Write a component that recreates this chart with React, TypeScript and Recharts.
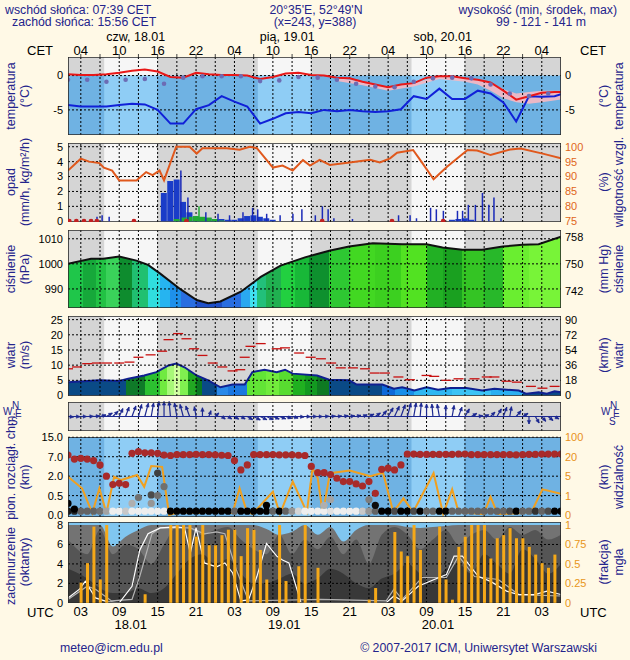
import React from "react";
import {
  ComposedChart,
  Line,
  Area,
  Bar,
  Scatter,
  XAxis,
  YAxis,
  ReferenceArea,
  ReferenceLine,
} from "recharts";

const FONT = "'Liberation Sans', Arial, Helvetica, sans-serif";
const NAVY = "#24248c";
const W = 630;
const LEFT = 68;
const RIGHT = 69;
const END = 77; // hours shown, counted from 02 CET 18.01

const NIGHT = "#d5d5d5";
const DAY = "#f6f6f6";
const BLUE_NIGHT = "#6fb2e3";
const BLUE_DAY = "#8fcdf5";

// sunrise 07:39, sunset 15:56 CET (hours from start)
const sunrise = [5.65, 29.65, 53.65];
const sunset = [13.93, 37.93, 61.93];
const dayTop = ["czw, 18.01", "pią, 19.01", "sob, 20.01"];
const dayBottom = ["18.01", "19.01", "20.01"];

const gridHours = [2, 5, 8, 11, 14, 17, 20, 23, 26, 29, 32, 35, 38, 41, 44, 47, 50, 53, 56, 59, 62, 65, 68, 71, 74];
const labelHours = [2, 8, 14, 20, 26, 32, 38, 44, 50, 56, 62, 68, 74];
const cetLabels = ["04", "10", "16", "22", "04", "10", "16", "22", "04", "10", "16", "22", "04"];
const utcLabels = ["03", "09", "15", "21", "03", "09", "15", "21", "03", "09", "15", "21", "03"];

// temperature (°C)
const tempHours = [0, 2, 4, 6, 8, 10, 12, 14, 16, 18, 20, 22, 24, 26, 28, 30, 32, 34, 36, 38, 40, 42, 44, 46, 48, 50, 52, 54, 56, 58, 60, 62, 64, 66, 68, 70, 72, 74, 76, 77];
const tempAir = [0.2, 0.1, 0.1, 0.2, 0.4, 0.7, 0.9, 0.6, -0.2, -0.3, 0.4, 0.2, 0.1, 0.1, 0.0, -0.5, -0.2, 0.3, 0.4, 0.1, 0.0, -0.3, -0.4, -0.9, -1.3, -1.7, -1.3, -1.1, -0.3, -0.1, -0.1, -0.4, -0.6, -1.0, -2.2, -3.5, -3.0, -2.5, -2.4, -2.4];
const tempBlue = [-4.3, -4.5, -4.5, -4.5, -4.3, -4.1, -4.2, -5.0, -7.0, -7.0, -4.9, -4.3, -3.0, -3.8, -4.5, -7.0, -6.3, -5.5, -5.3, -5.5, -5.0, -5.2, -5.0, -5.2, -5.3, -5.2, -4.9, -3.0, -3.4, -1.9, -3.4, -3.4, -2.2, -2.6, -3.9, -6.7, -3.0, -3.1, -3.0, -2.7];
const dewHours = [0, 3, 6, 9, 12, 15, 18, 21, 24, 27, 30, 33, 36, 39, 42, 45, 48, 51, 54, 57, 60, 63, 66, 69, 72, 75];
const dewPoint = [-0.6, -0.6, -0.9, -0.6, -0.5, -1.2, -0.3, -0.1, -0.1, -0.1, -0.8, -0.7, -0.2, -0.3, -0.6, -1.2, -1.6, -1.7, -0.9, -0.4, -0.3, -0.4, -1.3, -2.6, -3.0, -2.6];
const spreadHours = [42, 46, 50, 54, 58, 62, 64, 66, 68, 70, 72, 74, 77];
const spreadLow = [-0.8, -1.4, -2.2, -1.6, -0.5, -0.9, -1.3, -2.2, -3.3, -3.9, -4.1, -3.9, -3.5];
const spreadHigh = [-0.3, -0.9, -1.7, -1.1, -0.1, -0.4, -0.6, -1.0, -2.0, -2.6, -2.4, -2.2, -2.2];

// precipitation (mm/h) and relative humidity (%)
const blockHours = [15, 16, 17, 18, 19, 20, 21, 22, 23, 24, 25, 26, 27, 28, 29, 30, 31, 32, 60, 61, 62, 63];
const blockRain = [1.9, 2.7, 2.8, 1.3, 0.6, 0.3, 0.25, 0.2, 0.15, 0.15, 0.1, 0.1, 0.2, 0.35, 0.4, 0.3, 0.2, 0.1, 0.1, 0.15, 0.2, 0.1];
const spikeHours = [4.5, 5.3, 6.4, 17.6, 18.7, 21.5, 23.4, 25.2, 27.3, 28.8, 29.6, 31, 33.1, 35.1, 36.5, 38.6, 39.7, 40.6, 41.5, 44.4, 50.6, 51.6, 53.4, 54.4, 56.6, 57.5, 58.6, 60.8, 61.6, 62.5, 63.6, 64.7, 65.7, 66.5, 67.6];
const spikeRain = [0.3, 0.4, 0.3, 3.4, 1.6, 0.6, 0.5, 0.4, 0.6, 0.9, 0.8, 0.5, 0.4, 0.5, 0.8, 0.4, 1.0, 0.8, 0.2, 0.15, 0.15, 0.4, 0.4, 0.2, 0.9, 0.8, 0.7, 0.7, 0.7, 1.1, 1.1, 1.9, 1.1, 1.6, 0.2];
const snowHours = [17, 18, 19, 20, 21, 22, 23, 24];
const snowFall = [0.15, 0.25, 0.3, 0.35, 0.3, 0.25, 0.15, 0.05];
const snowSpikeHours = [20.5];
const snowSpike = [1.0];
const stormHours = [0.2, 1.3, 2.5, 3.6, 4.5, 10.3, 18.5, 39.7, 50.6, 58.6];
const rhHours = [0, 2, 3.3, 4.9, 5.6, 6.9, 8, 10.7, 12.2, 13.2, 14.3, 15, 16.9, 19, 20.1, 21, 24.8, 26.8, 28.4, 29.5, 32, 33.5, 35.1, 36.7, 37.8, 39.3, 40.9, 44, 47.2, 48.7, 50.3, 51.4, 53.9, 55, 57.1, 59.2, 62.4, 63.9, 66, 69.1, 70.7, 74.3, 77];
const rh = [92, 96, 95, 94.5, 93, 92, 88.7, 88.7, 91.5, 90.5, 92, 88.7, 100, 100, 97.7, 99.5, 99.5, 99, 100, 99.5, 93, 93.7, 92, 95.5, 93.7, 95.6, 93.9, 94.7, 95.6, 94.7, 96.1, 98, 98.9, 95.6, 89.1, 93.3, 98.9, 98.7, 97.2, 99.1, 99.4, 97.6, 96.1];

// pressure (hPa)
const pressHours = [0, 3.6, 5.5, 8, 10.7, 12.5, 14.4, 17.6, 20.1, 21.9, 23.8, 27, 30.1, 33.2, 37, 40.8, 43.9, 47.6, 52.2, 56, 58.5, 61.6, 64.7, 67.9, 71, 73.5, 77];
const pressure = [1000.0, 1002.0, 1002.0, 1002.9, 1001.3, 999.6, 996.1, 989.8, 985.6, 984.3, 985.0, 988.9, 994.8, 999.3, 1002.6, 1005.2, 1006.9, 1008.2, 1007.8, 1007.8, 1006.5, 1005.6, 1005.6, 1006.9, 1007.6, 1007.8, 1010.8];
const pressColorHours = [0, 2.4, 4.3, 6, 8, 10, 12.5, 14.4, 16, 17.6, 20, 24, 27, 28.5, 29.5, 31, 33.2, 35.5, 37.6, 40.8, 44, 48, 52, 56, 58.5, 61.6, 65, 68, 72];
const pressColors = ["#1fc64a", "#16a83a", "#22c244", "#3ad25a", "#0e8c2e", "#20c070", "#30dede", "#26b4f0", "#1e90ea", "#2a6ee0", "#1f50c8", "#2a6ee0", "#2aa8f0", "#40e0f0", "#22c07a", "#20b050", "#22d040", "#18b838", "#0e902e", "#2ec832", "#42d822", "#3cd020", "#52e222", "#22b024", "#1aa020", "#34c424", "#28b82a", "#6aee30", "#78f438"];

// wind (m/s)
const windHours = [0, 4.9, 8, 9.4, 11.9, 13.8, 15.7, 16.9, 18.2, 20.1, 21.9, 23.8, 25.7, 27.6, 28.8, 30.7, 32.6, 33.9, 35.1, 38.9, 40.8, 43.9, 45.1, 49.1, 50.9, 52.2, 54.1, 56, 57.8, 59.7, 62.2, 64.7, 66.6, 70.4, 71.6, 73.5, 74.8, 76, 77];
const windSpeed = [4.4, 5.0, 4.8, 5.5, 6.6, 7.7, 9.9, 10.5, 9.3, 6.6, 5.0, 2.7, 3.6, 3.6, 7.7, 8.5, 7.7, 8.5, 7.2, 6.6, 5.2, 5.0, 3.6, 3.6, 2.2, 2.7, 1.65, 2.7, 1.9, 2.5, 2.5, 1.65, 2.2, 1.65, 0.55, 1.1, 0.55, 1.4, 1.1];
const gustHours = [0, 1.4, 3, 4.5, 6.1, 8, 9.6, 11, 12.9, 14.7, 15.7, 17.2, 18.5, 19.7, 21, 22.6, 24.1, 25.7, 26.9, 27.6, 28.5, 30.1, 32.6, 33.9, 36.1, 37.9, 39.5, 41.1, 42.6, 44.5, 46.4, 47.9, 49.5, 51.6, 53.4, 56, 57.2, 59.1, 61, 63.5, 65.4, 66.6, 68.5, 70.1, 72.3, 74.1, 76];
const gusts = [8.8, 9.4, 10.5, 10.7, 10.7, 10.7, 11.0, 12.6, 13.4, 14.6, 18.4, 20.4, 18.7, 15.4, 13.2, 10.7, 9.4, 8.1, 8.5, 12.6, 16.2, 17.1, 15.4, 15.7, 14.0, 12.6, 12.1, 10.7, 9.1, 9.1, 8.8, 7.4, 7.4, 6.1, 5.2, 6.6, 6.3, 5.0, 5.5, 5.5, 6.1, 6.1, 4.7, 4.4, 3.0, 2.4, 3.0];
const windColorHours = [0, 9, 12, 14.4, 15.5, 16.5, 17.5, 18.8, 20, 21, 23.2, 25, 27.9, 31, 33, 35.1, 37, 38.9, 40.8, 49, 51, 54, 60, 66, 71];
const windColors = ["#0a4a86", "#0f7a28", "#2cc030", "#70ea40", "#a8f878", "#d0ffa0", "#80f050", "#22a822", "#0a7a20", "#0a4a86", "#2a8ae8", "#1c78e0", "#62e436", "#72ec3c", "#58dc30", "#20b020", "#139a20", "#0e7a22", "#0a4a86", "#0f6ad8", "#1a90e8", "#30b8f0", "#3cc4f4", "#2cb0f0", "#0a4a86"];

// wind direction, hourly: arrow heading (deg, 0 = up/north) and speed
const dirHours = Array.from({ length: 78 }, (_, i) => i);
const dirHeading = [95, 92, 90, 88, 85, 75, 60, 45, 25, 20, 20, 15, 15, 10, 5, 0, 355, 350, 345, 340, 350, 0, 20, 45, 125, 125, 122, 120, 120, 118, 115, 115, 112, 110, 108, 105, 95, 92, 90, 90, 88, 85, 85, 80, 80, 75, 70, 65, 55, 40, 30, 25, 20, 15, 10, 5, 0, 355, 350, 0, 10, 20, 30, 60, 80, 70, 45, 30, 20, 10, 40, 60, 180, 150, 140, 130, 120, 110];
const dirSpeed = [4.5, 4.5, 4.8, 5, 5, 5, 5.5, 6, 7, 8, 9, 10, 11, 11, 12, 12, 12, 11, 10, 9, 8, 7, 5, 4, 3.5, 3.5, 4, 4, 5, 6, 6, 6, 5.5, 5.5, 5, 5, 4.5, 4.5, 4.5, 4, 4, 4, 4, 4, 4, 4, 4, 4.5, 5, 6, 8, 9, 10, 11, 11, 11, 10, 10, 10, 9, 9, 8, 7, 5, 4, 4, 5, 7, 8, 8, 6, 5, 6, 6, 5, 5, 4, 4];

// cloud vertical extent (km) and visibility (km)
const cloudIdxStops = [0, 0.5, 2, 7, 15];
const visIdxStops = [0, 1, 5, 20, 100];
const cloudTopHours = dirHours;
const cloudTop = [7.7, 6.4, 6.6, 6.4, 6.0, 4.9, 2.0, 1.35, 1.45, 1.35, 8.4, 9.1, 8.6, 8.6, 8.4, 7.7, 7.5, 7.9, 7.9, 7.9, 8.0, 7.9, 7.9, 7.8, 7.6, 7.5, 6.0, 3.6, 4.9, 7.9, 7.9, 7.9, 7.9, 7.8, 7.8, 7.8, 7.6, 7.5, 4.5, 2.9, 2.9, 2.4, 1.84, 1.58, 1.58, 1.4, 1.24, 1.58, 0.68, 3.75, 4.05, 3.6, 4.9, 8.1, 8.1, 8.0, 8.0, 8.0, 8.0, 8.0, 8.0, 8.1, 8.1, 7.9, 7.9, 7.9, 7.9, 7.9, 7.9, 7.9, 7.8, 7.9, 8.0, 8.0, 8.1, 8.1, 8.1, 8.1];
const lowBaseKm = 0.1;
const lowShade = [0.9, 0.85, 0.6, 0.6, 0.6, 0.55, 0.35, 0.05, 0.05, 0.2, 0.05, 0.05, 0.05, 0.05, 0.05, 0.05, 1, 1, 1, 1, 1, 1, 1, 1, 1, 1, 0.6, 1, 1, 1, 1, 1, 0.6, 1, 0.6, 0.4, 0.15, 0.05, 0.05, 0.05, 0.05, 0.1, 0.05, 0.05, 0.05, 0.05, 0.2, 0.4, 0.6, 1, 1, 0.7, 1, 1, 0.7, 1, 0.6, 0.6, 1, 1, 0.6, 0.6, 0.6, 0.6, 0.6, 0.6, 0.6, 0.6, 0.6, 0.7, 1, 0.6, 0.6, 0.8, 0.6, 0.7, 1, 1];
const extraHours = [0, 1, 10, 11, 13, 13, 14, 14, 15, 31, 40, 41, 47, 48];
const extraKm = [0.3, 0.15, 0.3, 0.45, 0.55, 0.3, 2.8, 0.5, 1.2, 0.25, 0.25, 0.4, 0.4, 0.25];
const extraShade = [1, 1, 0.3, 0.55, 0.7, 0.4, 0.75, 0.55, 0.55, 1, 0.3, 0.35, 0.5, 0.95];
const visHours = [0, 2.2, 3.8, 4.9, 6.0, 7.2, 8.3, 10.8, 11.9, 13.0, 14.7, 15.8, 17.4, 20.5, 22.6, 25.7, 26.8, 27.9, 28.8, 32.0, 33.1, 35.1, 37.3, 38.2, 39.0, 39.8, 40.9, 44.0, 47.2, 49.2, 50.8, 52.4, 53.9, 57.1, 58.6, 60.0, 61.0, 62.9, 64.9, 66.0, 67.1, 71.2, 72.6, 74.1, 77];
const visibility = [4.9, 2.5, 0.1, 2.5, 0.1, 4.9, 4.2, 5.9, 2.8, 12.8, 12.2, 0, 0.15, 0.1, 0.25, 0.1, 2.5, 0.2, 0.05, 1.8, 0.05, 3.9, 0.15, 11.2, 4.6, 0.05, 7.3, 9.4, 5.0, 7.7, 0.15, 0.86, 0.15, 7.3, 0.05, 2.3, 0.15, 0.1, 0.05, 0.94, 0.05, 0.1, 0.3, 2.3, 1.4];

// cloud cover (octas) and fog fraction
const coverHours = [0, 3, 5, 7, 9, 11, 13, 15, 17, 19, 21, 23, 25, 27, 29, 31, 33, 35, 37, 39, 41, 43, 45, 47, 49, 51, 53, 55, 57, 59, 61, 63, 65, 67, 69, 71, 73, 75, 77];
const coverTotal = [8, 8, 8, 5.8, 6.8, 7.5, 8, 8, 8, 8, 8, 8, 8, 8, 8, 7.6, 7.0, 7.3, 8, 7.0, 7.8, 6.3, 7.5, 8, 8, 8, 7.8, 7.7, 7.8, 7.9, 8, 8, 8, 8, 8, 8, 8, 8, 8];
const coverMid = [6.5, 5.0, 7.5, 5.0, 6.0, 5.5, 4.0, 6.0, 7.8, 7.6, 7.0, 7.5, 7.8, 6.5, 5.5, 5.0, 7.0, 5.0, 6.5, 5.5, 6.8, 5.0, 6.5, 4.0, 7.0, 7.8, 7.0, 5.5, 6.5, 7.5, 6.0, 7.0, 7.5, 6.5, 7.8, 7.0, 7.5, 6.5, 7.0];
const coverLow = [3.5, 2.5, 1.5, 1.0, 1.0, 1.5, 1.0, 1.5, 3.0, 4.5, 5.0, 4.0, 4.5, 3.0, 2.0, 2.0, 2.5, 3.0, 2.0, 2.5, 3.5, 3.0, 2.0, 1.5, 2.5, 3.0, 4.0, 3.0, 2.0, 3.5, 4.0, 3.0, 5.0, 4.0, 3.0, 5.5, 4.5, 3.0, 4.0];
const lowCoverHours = [0, 1.8, 2.7, 4.3, 6.2, 8, 10, 11.2, 12.5, 14.4, 16.9, 18.2, 19.1, 20, 21.3, 23.2, 24.5, 25.7, 27, 28.2, 29.5, 31, 32.6, 33.5, 34.5, 36.4, 49.7, 50.9, 52.2, 54.7, 57.2, 59.1, 60.3, 61.6, 64.1, 66, 68.5, 70.4, 72.9, 74.8, 77];
const lowCover = [0.5, 1.4, 2.2, 0.5, 0.1, 0, 1.7, 5.4, 7.1, 7.7, 7.8, 7.7, 5.1, 7.7, 4.1, 3.7, 4.1, 3.1, 0.2, 0.3, 2.7, 6.1, 4.8, 4.4, 4.1, 0, 0, 0.7, 0.2, 1.7, 2.4, 2.9, 4.8, 4.8, 2.7, 2.2, 1.2, 0.85, 0.85, 1.2, 0.85];
const midCoverHours = [0, 3, 4.3, 6.8, 10, 11.2, 13.1, 14.4, 19.1, 21.3, 23.2, 24.5, 26.3, 28.2, 39.5, 49.7, 50.9, 52.2, 55.3, 59.1, 61, 63.5, 67.2, 70.4, 77];
const midCover = [0.35, 1.7, 1.4, 0.2, 0.35, 2.7, 7.1, 7.7, 7.7, 7.1, 7.3, 7.1, 3.4, 0.2, 0.35, 0.2, 1.4, 0.35, 2.6, 2.6, 4.8, 2.7, 2.4, 0.85, 0.7];
const fogHours = [2, 3, 4, 5, 6, 12, 16, 17, 18, 19, 20, 21, 22, 23, 24, 25, 26, 27, 28, 29, 30, 31, 33, 34, 36, 37, 39, 47, 48, 51, 52, 53, 54, 55, 58, 59, 60, 61, 62, 63, 64, 65, 66, 67, 68, 69, 70, 71, 72, 73, 74, 75, 76];
const fog = [0.26, 0.51, 0.98, 0.3, 1.0, 0.11, 1, 1, 1, 1, 0.85, 1, 0.74, 0.74, 0.87, 0.94, 0.94, 0.6, 0.96, 0.94, 0.68, 0.3, 1, 0.28, 0.47, 1, 0.45, 0.04, 0.19, 0.91, 0.66, 0.6, 1, 0.68, 0.98, 0.3, 0.04, 0.72, 0.85, 1, 1, 1, 0.57, 0.83, 0.87, 0.96, 0.83, 0.83, 0.72, 0.62, 0.51, 0.45, 0.62];

// ---------- helpers ----------
function rows(cols: Record<string, [number[], any[]]>) {
  const byHour = new Map<number, any>();
  Object.entries(cols).forEach(([key, [hs, vs]]) => {
    hs.forEach((h, i) => {
      const r = byHour.get(h) || { h };
      r[key] = vs[i];
      byHour.set(h, r);
    });
  });
  return [...byHour.values()].sort((a, b) => a.h - b.h);
}

function toIdx(v: number, stops: number[]) {
  for (let i = 1; i < stops.length; i++) {
    if (v <= stops[i]) return i - 1 + (v - stops[i - 1]) / (stops[i] - stops[i - 1]);
  }
  return stops.length - 1;
}

function gray(shade: number) {
  const g = Math.round(250 * (1 - shade));
  return `rgb(${g},${g},${g})`;
}

function bandGradient(id: string, hours: number[], colors: string[]) {
  const stops: any[] = [];
  hours.forEach((h, i) => {
    const end = i + 1 < hours.length ? hours[i + 1] : END;
    stops.push(<stop key={i + "a"} offset={h / END} stopColor={colors[i]} />);
    stops.push(<stop key={i + "b"} offset={end / END} stopColor={colors[i]} />);
  });
  return (
    <defs>
      <linearGradient id={id} x1="0" y1="0" x2="1" y2="0">
        {stops}
      </linearGradient>
    </defs>
  );
}

function backdrop(k: string, night: string, day: string, y1?: number, y2?: number) {
  return [
    <ReferenceArea key={k + "n"} x1={0} x2={END} y1={y1} y2={y2} fill={night} fillOpacity={1} stroke="none" ifOverflow="hidden" zIndex={-200} />,
    ...sunrise.map((s, i) => (
      <ReferenceArea key={k + i} x1={s} x2={sunset[i]} y1={y1} y2={y2} fill={day} fillOpacity={1} stroke="none" ifOverflow="hidden" zIndex={-190} />
    )),
  ];
}

function grid(ys: number[]) {
  return [
    ...gridHours.map((h) => (
      <ReferenceLine key={"gx" + h} x={h} stroke="#000" strokeDasharray="2 2" strokeWidth={1} zIndex={150} />
    )),
    ...ys.map((v) => (
      <ReferenceLine key={"gy" + v} y={v} stroke="#000" strokeDasharray="2 2" strokeWidth={1} zIndex={150} />
    )),
  ];
}

const frame = (
  <ReferenceArea x1={0} x2={END} fill="none" fillOpacity={0} stroke="#2a2a2a" strokeWidth={1.6} ifOverflow="hidden" zIndex={1500} />
);

function xAxis(id: any = 0) {
  return <XAxis xAxisId={id} dataKey="h" type="number" domain={[0, END]} hide allowDataOverflow />;
}

function leftAxis(domain: number[], ticks: number[], fmt?: (v: number) => string) {
  return (
    <YAxis width={LEFT} type="number" domain={domain} ticks={ticks} interval={0} allowDataOverflow
      tickLine={false} axisLine={false} tickSize={0} tickMargin={5}
      tick={{ fontSize: 11, fill: "#000" }} tickFormatter={fmt} />
  );
}

function rightAxis(domain: number[], ticks: number[], color = "#000", fmt?: (v: number) => string) {
  return (
    <YAxis yAxisId="r" orientation="right" width={RIGHT} type="number" domain={domain} ticks={ticks} interval={0} allowDataOverflow
      tickLine={false} axisLine={false} tickSize={0} tickMargin={4}
      tick={{ fontSize: 11, fill: color }} tickFormatter={fmt} />
  );
}

// a panel: absolutely placed box, holding one or more stacked chart layers
function Panel({ top, height, padTop = 0, padBottom = 0, children }: any) {
  return (
    <div style={{ position: "absolute", left: 0, top: top - padTop, width: W, height: height + padTop + padBottom }}>
      {children}
    </div>
  );
}

function Layer({ height, data, margin, children }: any) {
  return (
    <div style={{ position: "absolute", left: 0, top: 0 }}>
      <ComposedChart width={W} height={height} data={data}
        margin={margin || { top: 0, right: 0, bottom: 0, left: 0 }}>
        {children}
      </ComposedChart>
    </div>
  );
}

// bars drawn on their own layer so that their width is not squeezed by other series
function BarLayer({ height, padTop = 0, padBottom = 0, hours, values, domain, fill, size }: any) {
  const data = hours.map((h: number, i: number) => ({ h, v: values[i] }));
  return (
    <Layer height={height} data={data} margin={{ top: padTop, bottom: padBottom, left: LEFT, right: RIGHT }}>
      {xAxis()}
      <YAxis hide type="number" domain={domain} allowDataOverflow />
      <Bar dataKey="v" fill={fill} barSize={size} isAnimationActive={false} />
    </Layer>
  );
}

function VLabel({ x, y, text, color = NAVY }: any) {
  return (
    <div style={{ position: "absolute", left: x, top: y, transform: "translate(-50%, -50%) rotate(-90deg)", whiteSpace: "nowrap", color, fontSize: 12.5, lineHeight: 1 }}>
      {text}
    </div>
  );
}

function Txt({ x, y, text, align = "left", size = 12.3, color = NAVY }: any) {
  const tx = align === "center" ? "translate(-50%, 0)" : align === "right" ? "translate(-100%, 0)" : "none";
  return (
    <div style={{ position: "absolute", left: x, top: y, transform: tx, whiteSpace: "nowrap", color, fontSize: size, lineHeight: 1 }}>
      {text}
    </div>
  );
}

function Compass({ x, y }: any) {
  const s = { position: "absolute" as const, fontSize: 10, lineHeight: 1, color: NAVY };
  return (
    <>
      <div style={{ ...s, left: x + 9, top: y }}>N</div>
      <div style={{ ...s, left: x, top: y + 6 }}>W</div>
      <div style={{ ...s, left: x + 12, top: y + 8 }}>E</div>
      <div style={{ ...s, left: x + 8, top: y + 16 }}>S</div>
    </>
  );
}

const topTicks = [...gridHours, ...sunrise].sort((a, b) => a - b);
const dayMid = sunrise.map((s, i) => (s + sunset[i]) / 2);
const bottomTicks = [...labelHours, ...dayMid].sort((a, b) => a - b);

const TopTick = (p: any) => {
  const v = p.payload.value;
  const d = sunrise.indexOf(v);
  if (d >= 0) {
    return <text x={p.x + 2} y={p.y - 16} textAnchor="start" fontSize={12.5} fill="#000">{dayTop[d]}</text>;
  }
  const i = labelHours.indexOf(v);
  return (
    <g>
      <line x1={p.x} x2={p.x} y1={p.y - 3} y2={p.y} stroke="#444" />
      {i >= 0 && <text x={p.x} y={p.y - 2} textAnchor="middle" fontSize={13} fill="#000">{cetLabels[i]}</text>}
    </g>
  );
};

const BottomTick = (p: any) => {
  const v = p.payload.value;
  const d = dayMid.indexOf(v);
  if (d >= 0) {
    return <text x={p.x} y={p.y + 26} textAnchor="middle" fontSize={13} fill="#000">{dayBottom[d]}</text>;
  }
  const i = labelHours.indexOf(v);
  return <text x={p.x} y={p.y + 13} textAnchor="middle" fontSize={13} fill="#000">{i >= 0 ? utcLabels[i] : ""}</text>;
};

const Dot = (r: number, fill: string) => (p: any) =>
  p.cx == null || p.cy == null ? <g /> : <circle cx={p.cx} cy={p.cy} r={r} fill={fill} />;

const ShadeDot = (p: any) =>
  p.cx == null ? <g /> : <circle cx={p.cx} cy={p.cy} r={3.6} fill={gray(p.payload.shade)} />;

const GustDash = (p: any) =>
  p.cx == null ? <g /> : <line x1={p.cx - 5} x2={p.cx + 5} y1={p.cy} y2={p.cy} stroke="#c81010" strokeWidth={1.3} />;

const Arrow = (p: any) => {
  const { cx, cy, payload } = p;
  if (cx == null) return <g />;
  const a = (payload.dir * Math.PI) / 180;
  const len = payload.spd * 1.25;
  const tx = cx + Math.sin(a) * len;
  const ty = cy - Math.cos(a) * len;
  const hx1 = tx - Math.sin(a - 0.45) * 4;
  const hy1 = ty + Math.cos(a - 0.45) * 4;
  const hx2 = tx - Math.sin(a + 0.45) * 4;
  const hy2 = ty + Math.cos(a + 0.45) * 4;
  return (
    <g stroke="#1c2890" fill="#1c2890" strokeWidth={1.2}>
      <line x1={cx} y1={cy} x2={tx} y2={ty} />
      <polygon points={`${tx},${ty} ${hx1},${hy1} ${hx2},${hy2}`} strokeWidth={0.5} />
    </g>
  );
};

// ---------- tables ----------
const tempRows = rows({
  air: [tempHours, tempAir],
  blue: [tempHours, tempBlue],
  spread: [spreadHours, spreadHours.map((_, i) => [spreadLow[i], spreadHigh[i]])],
});
const dewData = dewHours.map((h, i) => ({ h, v: dewPoint[i] }));

const precipRows = rows({ rh: [rhHours, rh] });
const stormData = stormHours.map((h) => ({ h, v: 0 }));

const pressRows = rows({ p: [pressHours, pressure] });

const windRows = rows({ w: [windHours, windSpeed] });
const gustData = gustHours.map((h, i) => ({ h, v: gusts[i] }));

const dirData = dirHours.map((h, i) => ({ h, v: 0, dir: dirHeading[i], spd: dirSpeed[i] }));

const visRows = rows({ vis: [visHours, visibility] });
const cloudTopData = cloudTopHours.map((h, i) => ({ h, km: cloudTop[i] }));
const lowDotData = [
  ...lowShade.map((s, i) => ({ h: i, km: lowBaseKm, shade: s })),
  ...extraHours.map((h, i) => ({ h, km: extraKm[i], shade: extraShade[i] })),
];

const coverRows = rows({
  total: [coverHours, coverTotal],
  mid: [coverHours, coverMid],
  low: [coverHours, coverLow],
  lineA: [lowCoverHours, lowCover],
  lineB: [midCoverHours, midCover],
});

const hPaToMmHg = 0.750062;
const tempDomain = [-8.66, 2.71];
const precipDomain = [-0.05, 5.25];
const pressDomain = [982.4, 1013.5];
const windDomain = [-0.17, 26.2];
const visDomain = [-0.1, 4.015];
const coverDomain = [-0.02, 8.31];
const fogDomain = [-0.0025, 1.039];

export default function App() {
  return (
    <div style={{ position: "fixed", left: 0, top: 0, width: W, height: 660, background: "#fff9e6", fontFamily: FONT, overflow: "hidden" }}>
      <style>{`.recharts-surface{overflow:visible}`}</style>
      {/* title block */}
      <Txt x={5} y={4} text="wschód słońca: 07:39 CET" />
      <Txt x={12} y={16} text="zachód słońca: 15:56 CET" />
      <Txt x={316} y={4} text="20°35'E, 52°49'N" align="center" />
      <Txt x={315} y={16} text="(x=243,  y=388)" align="center" />
      <Txt x={617} y={4} text="wysokość (min, środek, max)" align="right" />
      <Txt x={541} y={16} text="99 - 121 - 141 m" align="center" />

      {/* day / night columns behind everything */}
      <div style={{ position: "absolute", left: 0, top: 29 }}>
        <ComposedChart width={W} height={603} margin={{ top: 0, right: RIGHT, bottom: 0, left: LEFT }}>
          {xAxis()}
          <YAxis hide domain={[0, 1]} />
          {backdrop("bg", NIGHT, DAY)}
        </ComposedChart>
      </div>
      <Txt x={27} y={44} text="CET" size={13} color="#000" />
      <Txt x={580} y={44} text="CET" size={13} color="#000" />
      <Txt x={27} y={606} text="UTC" size={13} color="#000" />
      <Txt x={580} y={606} text="UTC" size={13} color="#000" />

      {/* temperature, with the CET time axis on top */}
      <Panel top={57} height={78} padTop={28}>
        <Layer height={106} data={tempRows}>
          <XAxis dataKey="h" type="number" domain={[0, END]} orientation="top" height={28} ticks={topTicks} interval={0}
            axisLine={false} tickLine={false} tickSize={0} tickMargin={0} tick={TopTick} allowDataOverflow />
          {leftAxis(tempDomain, [0, -5])}
          {rightAxis(tempDomain, [0, -5])}
          {backdrop("u", NIGHT, DAY, 0, tempDomain[1])}
          {backdrop("l", BLUE_NIGHT, BLUE_DAY, tempDomain[0], 0)}
          <Area dataKey="spread" fill="#f7b8c2" fillOpacity={0.9} stroke="none" connectNulls isAnimationActive={false} />
          {grid([0, -5])}
          <Line dataKey="blue" stroke="#1020d8" strokeWidth={2} dot={false} connectNulls isAnimationActive={false} />
          <Line dataKey="air" stroke="#e81818" strokeWidth={2} dot={false} connectNulls isAnimationActive={false} />
          <Scatter data={dewData} dataKey="v" shape={Dot(2.3, "#6c6cb4")} isAnimationActive={false} />
          {frame}
        </Layer>
      </Panel>
      <VLabel x={11} y={96} text="temperatura" />
      <VLabel x={25} y={96} text="(°C)" />
      <VLabel x={604} y={96} text="(°C)" />
      <VLabel x={619} y={96} text="temperatura" />

      {/* precipitation and humidity */}
      <Panel top={143} height={79}>
        <Layer height={79} data={precipRows}>
          {xAxis()}
          {leftAxis(precipDomain, [0, 1, 2, 3, 4, 5])}
          {rightAxis([74.75, 101.25], [75, 80, 85, 90, 95, 100], "#e0661a")}
          {backdrop("p", NIGHT, DAY)}
          {grid([1, 2, 3, 4, 5])}
          <Line yAxisId="r" dataKey="rh" stroke="#e0581c" strokeWidth={2} dot={false} connectNulls isAnimationActive={false} />
          {frame}
        </Layer>
        <BarLayer height={79} hours={blockHours} values={blockRain} domain={precipDomain} fill="#1a3cc8" size={6} />
        <BarLayer height={79} hours={snowHours} values={snowFall} domain={precipDomain} fill="#22aa34" size={6} />
        <BarLayer height={79} hours={spikeHours} values={spikeRain} domain={precipDomain} fill="#1a2ab8" size={1.5} />
        <BarLayer height={79} hours={snowSpikeHours} values={snowSpike} domain={precipDomain} fill="#22aa34" size={1.5} />
        <Layer height={79} data={stormData} margin={{ top: 0, bottom: 0, left: LEFT, right: RIGHT }}>
          {xAxis()}
          <YAxis hide type="number" domain={precipDomain} allowDataOverflow />
          <Scatter data={stormData} dataKey="v" shape={Dot(2.4, "#c02020")} isAnimationActive={false} />
        </Layer>
      </Panel>
      <VLabel x={11} y={182} text="opad" />
      <VLabel x={25} y={182} text="(mm/h, kg/m²/h)" />
      <VLabel x={604} y={182} text="(%)" />
      <VLabel x={619} y={182} text="wilgotność wzgl." />

      {/* pressure */}
      <Panel top={230} height={78}>
        <Layer height={78} data={pressRows}>
          {bandGradient("pressFill", pressColorHours, pressColors)}
          {xAxis()}
          {leftAxis(pressDomain, [990, 1000, 1010])}
          {rightAxis(pressDomain.map((v) => v * hPaToMmHg), [742, 750, 758])}
          {backdrop("s", NIGHT, DAY)}
          <Area dataKey="p" fill="url(#pressFill)" fillOpacity={1} stroke="#111" strokeWidth={2} isAnimationActive={false} />
          {grid([990, 1000, 1010])}
          {frame}
        </Layer>
      </Panel>
      <VLabel x={11} y={269} text="ciśnienie" />
      <VLabel x={25} y={269} text="(hPa)" />
      <VLabel x={604} y={269} text="(mm Hg)" />
      <VLabel x={619} y={269} text="ciśnienie" />

      {/* wind speed and gusts */}
      <Panel top={316} height={80}>
        <Layer height={80} data={windRows}>
          {bandGradient("windFill", windColorHours, windColors)}
          {xAxis()}
          {leftAxis(windDomain, [0, 5, 10, 15, 20, 25])}
          {rightAxis(windDomain.map((v) => v * 3.6), [0, 18, 36, 54, 72, 90])}
          {backdrop("w", NIGHT, DAY)}
          <Area dataKey="w" fill="url(#windFill)" fillOpacity={1} stroke="#102090" strokeWidth={2} baseValue={0} isAnimationActive={false} />
          {grid([5, 10, 15, 20, 25])}
          <Scatter data={gustData} dataKey="v" shape={GustDash} isAnimationActive={false} />
          {frame}
        </Layer>
      </Panel>
      <VLabel x={11} y={355} text="wiatr" />
      <VLabel x={25} y={355} text="(m/s)" />
      <VLabel x={604} y={355} text="(km/h)" />
      <VLabel x={619} y={355} text="wiatr" />

      {/* wind direction */}
      <Panel top={402} height={29}>
        <Layer height={29} data={dirData} margin={{ top: 0, bottom: 0, left: LEFT, right: RIGHT }}>
          {xAxis()}
          <YAxis hide type="number" domain={[-1, 1]} />
          {backdrop("d", NIGHT, DAY)}
          {grid([])}
          <ReferenceLine y={0} stroke="#1c2890" strokeWidth={1.2} />
          <Scatter data={dirData} dataKey="v" shape={Arrow} isAnimationActive={false} />
          {frame}
        </Layer>
      </Panel>
      <Compass x={3} y={401} />
      <Compass x={601} y={401} />

      {/* cloud vertical extent and visibility */}
      <Panel top={437} height={80}>
        <Layer height={80} data={visRows}>
          {xAxis()}
          {leftAxis(visDomain, [0, 1, 2, 3, 4], (v) => ["0.0", "0.5", "2.0", "7.0", "15.0"][v])}
          {rightAxis(visDomain, [0, 1, 2, 3, 4], "#e8901a", (v) => ["0", "1", "5", "20", "100"][v])}
          {backdrop("c", BLUE_NIGHT, BLUE_DAY)}
          {grid([1, 2, 3, 4])}
          <Line dataKey={(r: any) => (r.vis == null ? null : toIdx(r.vis, visIdxStops))} stroke="#f0a020" strokeWidth={2} dot={false} connectNulls isAnimationActive={false} />
          <Scatter data={lowDotData} dataKey={(r: any) => toIdx(r.km, cloudIdxStops)} shape={ShadeDot} isAnimationActive={false} />
          <Scatter data={cloudTopData} dataKey={(r: any) => toIdx(r.km, cloudIdxStops)} shape={Dot(3.6, "#a82a2a")} isAnimationActive={false} />
          {frame}
        </Layer>
      </Panel>
      <VLabel x={11} y={466} text="pion. rozciągł. chm." />
      <VLabel x={25} y={477} text="(km)" />
      <VLabel x={604} y={477} text="(km)" />
      <VLabel x={619} y={477} text="widzialność" />

      {/* cloud cover and fog, with the UTC time axis below */}
      <Panel top={522} height={81} padBottom={29}>
        <Layer height={110} data={coverRows}>
          <XAxis dataKey="h" type="number" domain={[0, END]} orientation="bottom" height={29} ticks={bottomTicks} interval={0}
            axisLine={false} tickLine={false} tickSize={0} tickMargin={0} tick={BottomTick} allowDataOverflow />
          {leftAxis(coverDomain, [0, 2, 4, 6, 8])}
          {rightAxis(fogDomain, [0, 0.25, 0.5, 0.75, 1], "#e8961a")}
          {backdrop("k", "#80c6f0", "#80c6f0")}
          <Area dataKey="total" type="monotone" fill="#737373" fillOpacity={1} stroke="none" connectNulls isAnimationActive={false} />
          <Area dataKey="mid" type="monotone" fill="#555555" fillOpacity={1} stroke="none" connectNulls isAnimationActive={false} />
          <Area dataKey="low" type="monotone" fill="#383838" fillOpacity={1} stroke="none" connectNulls isAnimationActive={false} />
          {grid([2, 4, 6])}
          <Line dataKey="lineB" stroke="#b4b4b4" strokeWidth={1.2} dot={false} connectNulls isAnimationActive={false} />
          <Line dataKey="lineA" stroke="#ffffff" strokeWidth={1.2} dot={false} connectNulls isAnimationActive={false} />
          {frame}
        </Layer>
        <BarLayer height={110} padBottom={29} hours={fogHours} values={fog} domain={fogDomain} fill="#f5a818" size={3} />
      </Panel>
      <VLabel x={11} y={566} text="zachmurzenie" />
      <VLabel x={25} y={562} text="(oktanty)" />
      <VLabel x={604} y={562} text="(frakcja)" />
      <VLabel x={619} y={562} text="mgła" />

      {/* footer */}
      <Txt x={60} y={642} text="meteo@icm.edu.pl" />
      <Txt x={597} y={642} text="© 2007-2017 ICM, Uniwersytet Warszawski" align="right" />
    </div>
  );
}
